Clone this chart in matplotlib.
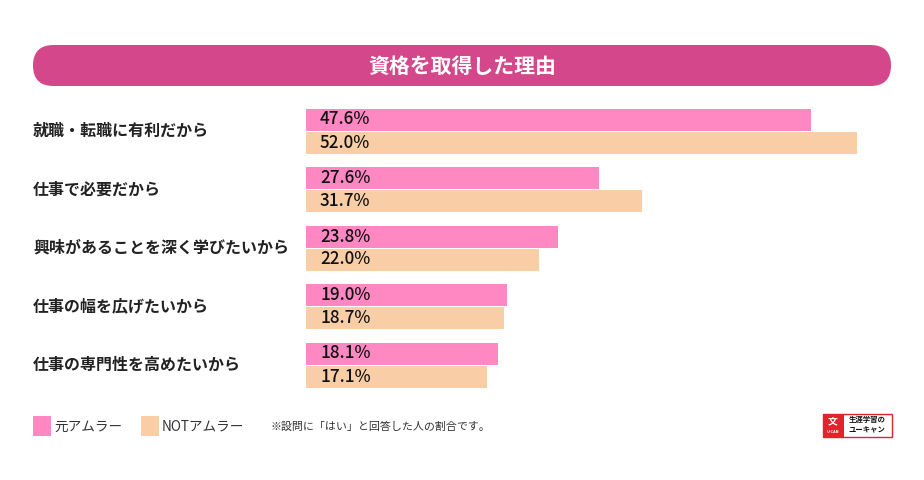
import matplotlib
matplotlib.use("Agg")
import matplotlib.pyplot as plt
from matplotlib.patches import FancyBboxPatch, Rectangle
from matplotlib import transforms
import numpy as np

plt.rcParams['font.family'] = ['Noto Sans CJK JP', 'DejaVu Sans']

# ---- data ----
title = "資格を取得した理由"
categories = ["就職・転職に有利だから", "仕事で必要だから", "興味があることを深く学びたいから",
              "仕事の幅を広げたいから", "仕事の専門性を高めたいから"]
series_names = ["元アムラー", "NOTアムラー"]
former_amura = [47.6, 27.6, 23.8, 19.0, 18.1]
not_amura = [52.0, 31.7, 22.0, 18.7, 17.1]
note = "※設問に「はい」と回答した人の割合です。"

PINK = "#FF88C3"
PEACH = "#F9CEA7"
TITLE_BG = "#D4478A"

W, H = 924, 480
fig = plt.figure(figsize=(W / 100, H / 100), dpi=100)
fig.patch.set_facecolor("white")

# overlay axes in pixel coords for decorations
ov = fig.add_axes([0, 0, 1, 1], zorder=0)
ov.set_xlim(0, W)
ov.set_ylim(H, 0)
ov.axis("off")

# title bar
ov.add_patch(FancyBboxPatch((33, 45), 858, 41, boxstyle="round,pad=0,rounding_size=20.5",
                            facecolor=TITLE_BG, edgecolor="none"))
ov.text(462, 66, title, color="white", fontsize=15, fontweight="bold", ha="center", va="center")

# bar axes
def px2fig(x0, y0, x1, y1):
    return [x0 / W, 1 - y1 / H, (x1 - x0) / W, (y1 - y0) / H]

unit = 58.5
top = 131 - 0.5 * unit
xmax = 55
px_per = 10.6
ax = fig.add_axes(px2fig(306, top, 306 + xmax * px_per, top + 5 * unit), zorder=1)
ax.patch.set_alpha(0)
ax.set_xlim(0, xmax)
ax.set_ylim(len(categories) - 0.5, -0.5)
ax.axis("off")

y = np.arange(len(categories))
bh = 22 / unit
off = 11.5 / unit
ax.barh(y - off, former_amura, height=bh, color=PINK, edgecolor="none")
ax.barh(y + off, not_amura, height=bh, color=PEACH, edgecolor="none")

lab_tr = transforms.blended_transform_factory(fig.transFigure, ax.transData)
for yi, c in zip(y, categories):
    ax.text(33 / W, yi, c, transform=lab_tr, ha="left", va="center",
            fontsize=11.5, fontweight="bold", color="#222222")

val_tr = ax.transData + transforms.ScaledTranslation(14 / 100, 0, fig.dpi_scale_trans)
for yi, a, b in zip(y, former_amura, not_amura):
    ax.text(0, yi - off, f"{a:.1f}%", transform=val_tr, ha="left", va="center",
            fontsize=12.3, fontweight="medium", color="#111111")
    ax.text(0, yi + off, f"{b:.1f}%", transform=val_tr, ha="left", va="center",
            fontsize=12.3, fontweight="medium", color="#111111")

# legend
ov.add_patch(Rectangle((33, 416), 18, 20, facecolor=PINK, edgecolor="none"))
ov.text(54, 426.5, series_names[0], fontsize=9.8, color="#333333", va="center", ha="left")
ov.add_patch(Rectangle((141, 416), 18, 20, facecolor=PEACH, edgecolor="none"))
ov.text(162, 426.5, series_names[1], fontsize=9.8, color="#333333", va="center", ha="left")
ov.text(270, 427, note, fontsize=7.9, color="#333333", va="center", ha="left")

# logo
ov.add_patch(Rectangle((822.5, 413.5), 69, 23, facecolor="white", edgecolor="#E5212B", lw=1))
ov.add_patch(Rectangle((822.5, 413.5), 21, 23, facecolor="#E5212B", edgecolor="none"))
ov.text(833, 421, "文", fontsize=7, color="white", ha="center", va="center", fontweight="bold")
ov.text(833, 432, "U-CAN", fontsize=2.8, color="white", ha="center", va="center", fontweight="bold")
ov.text(867, 419.5, "生涯学習の", fontsize=5.3, color="#111111", ha="center", va="center", fontweight="bold")
ov.text(867, 430, "ユーキャン", fontsize=5.3, color="#111111", ha="center", va="center", fontweight="bold")

fig.savefig("out.png", dpi=100)
